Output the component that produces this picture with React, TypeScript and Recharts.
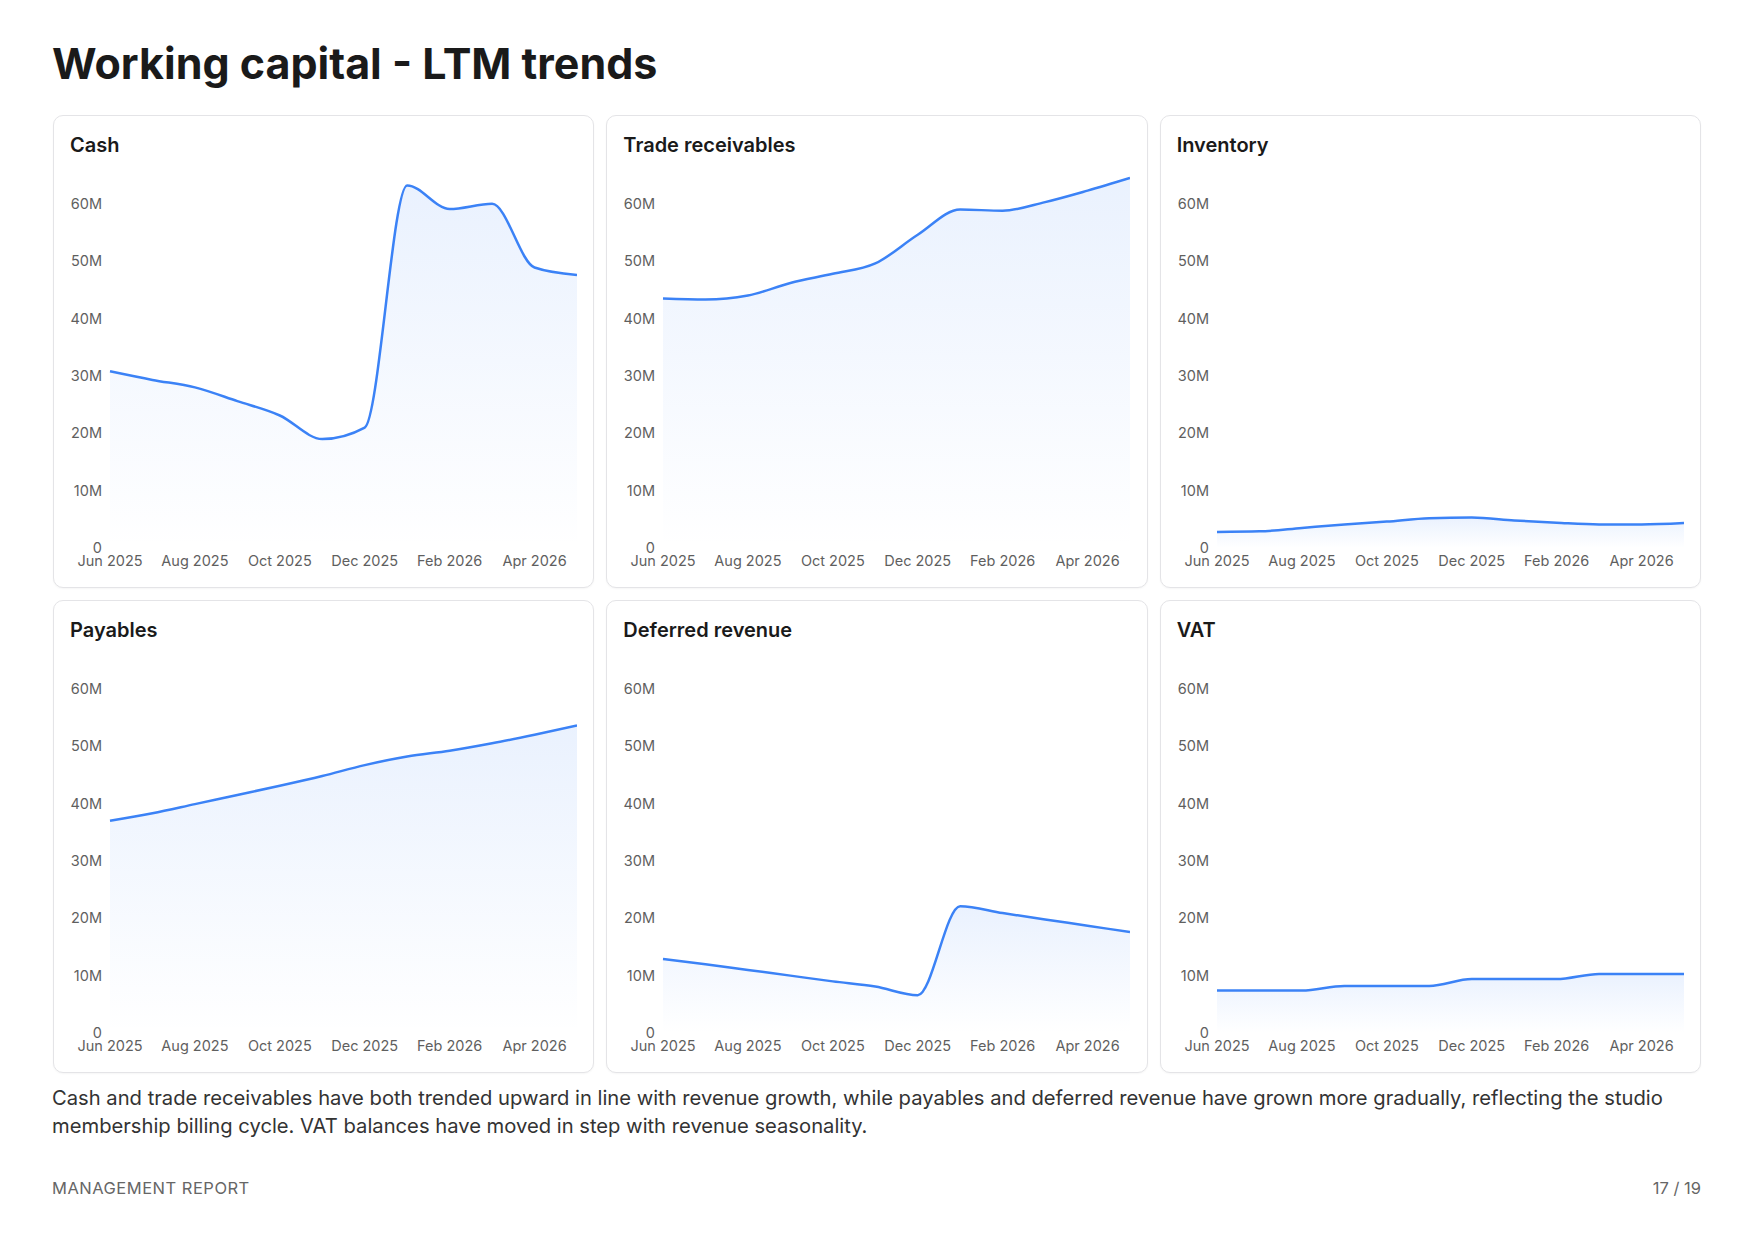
import { Area, AreaChart, XAxis, YAxis } from "recharts";

// Month-end balances, in millions
const months = [
  "Jun 2025", "Jul 2025", "Aug 2025", "Sep 2025", "Oct 2025", "Nov 2025",
  "Dec 2025", "Jan 2026", "Feb 2026", "Mar 2026", "Apr 2026", "May 2026",
];

const cash = [30.8, 29.3, 28.0, 25.6, 23.1, 19.0, 21.0, 63.2, 59.1, 60.0, 48.9, 47.6];
const tradeReceivables = [43.5, 43.3, 44.0, 46.2, 47.8, 49.6, 54.6, 59.0, 58.8, 60.3, 62.3, 64.5];
const inventory = [2.8, 2.9, 3.5, 4.1, 4.6, 5.2, 5.3, 4.8, 4.4, 4.1, 4.1, 4.35];
const payables = [37.0, 38.3, 39.9, 41.5, 43.1, 44.8, 46.7, 48.2, 49.2, 50.5, 52.0, 53.6];
const deferredRevenue = [12.9, 12.0, 11.0, 10.0, 9.0, 8.1, 6.6, 22.1, 20.9, 19.8, 18.7, 17.6];
const vat = [7.4, 7.4, 7.4, 8.2, 8.2, 8.2, 9.4, 9.4, 9.4, 10.3, 10.3, 10.3];

const yTicks = [0, 10, 20, 30, 40, 50, 60];

const panels = [
  { id: "cash", title: "Cash", values: cash },
  { id: "receivables", title: "Trade receivables", values: tradeReceivables },
  { id: "inventory", title: "Inventory", values: inventory },
  { id: "payables", title: "Payables", values: payables },
  { id: "deferred", title: "Deferred revenue", values: deferredRevenue },
  { id: "vat", title: "VAT", values: vat },
];

// every panel shares one scale so balances compare across cards
const yMax = Math.max(...panels.flatMap((p) => p.values));

const FONT = "Inter, 'Noto Sans', sans-serif";
const BLUE = "#3b82f6";
const tickStyle = { fontSize: 14.5, fill: "#5f5f5f", fontFamily: FONT };

const formatMillions = (v: number) => (v === 0 ? "0" : `${v}M`);

function TrendCard({ id, title, values }: { id: string; title: string; values: number[] }) {
  const data = months.map((month, i) => ({ month, value: values[i] }));
  return (
    <div
      style={{
        boxSizing: "border-box",
        height: 473,
        border: "1px solid #e4e4e7",
        borderRadius: 10,
        padding: "17px 16px 16px",
        background: "#fff",
        boxShadow: "0 1px 2px rgba(0,0,0,0.04)",
      }}
    >
      <div style={{ fontSize: 20, lineHeight: "24px", fontWeight: 600, color: "#1a1a1a" }}>
        {title}
      </div>
      <div style={{ marginTop: 16 }}>
        <AreaChart width={507} height={399} data={data} margin={{ top: 5, right: 0, bottom: 0, left: 0 }}>
          <defs>
            <linearGradient id={`fill-${id}`} x1="0" y1="0" x2="0" y2="1">
              <stop offset="0%" stopColor={BLUE} stopOpacity={0.18} />
              <stop offset="100%" stopColor={BLUE} stopOpacity={0} />
            </linearGradient>
          </defs>
          <XAxis
            dataKey="month"
            interval={1}
            tickLine={false}
            axisLine={false}
            height={24}
            tick={tickStyle}
          />
          <YAxis
            domain={[0, yMax]}
            ticks={yTicks}
            tickFormatter={formatMillions}
            width={40}
            tickLine={false}
            axisLine={false}
            tick={tickStyle}
          />
          <Area
            type="monotone"
            dataKey="value"
            stroke={BLUE}
            strokeWidth={2.5}
            fill={`url(#fill-${id})`}
            dot={false}
            activeDot={false}
            isAnimationActive={false}
          />
        </AreaChart>
      </div>
    </div>
  );
}

export default function App() {
  return (
    <div
      style={{
        position: "relative",
        width: 1754,
        height: 1241,
        background: "#fff",
        fontFamily: FONT,
        color: "#1a1a1a",
      }}
    >
      <style>{`body { margin: 0; }`}</style>
      <div
        style={{
          position: "absolute",
          left: 52,
          top: 37,
          fontSize: 43,
          lineHeight: "52px",
          fontWeight: 700,
        }}
      >
        Working capital - LTM trends
      </div>

      <div
        style={{
          position: "absolute",
          left: 53,
          top: 115,
          width: 1648,
          display: "grid",
          gridTemplateColumns: "repeat(3, 1fr)",
          gap: 12,
        }}
      >
        {panels.map((p) => (
          <TrendCard key={p.id} id={p.id} title={p.title} values={p.values} />
        ))}
      </div>

      <div
        style={{
          position: "absolute",
          left: 52,
          top: 1084,
          width: 1650,
          fontSize: 20.2,
          lineHeight: "28px",
          color: "#333333",
        }}
      >
        Cash and trade receivables have both trended upward in line with revenue growth, while payables
        and deferred revenue have grown more gradually, reflecting the studio membership billing cycle.
        VAT balances have moved in step with revenue seasonality.
      </div>

      <div
        style={{
          position: "absolute",
          left: 52,
          top: 1178,
          width: 1649,
          display: "flex",
          justifyContent: "space-between",
          fontSize: 16.5,
          lineHeight: "20px",
          color: "#666666",
        }}
      >
        <span style={{ letterSpacing: 0.5 }}>MANAGEMENT REPORT</span>
        <span>17 / 19</span>
      </div>
    </div>
  );
}
